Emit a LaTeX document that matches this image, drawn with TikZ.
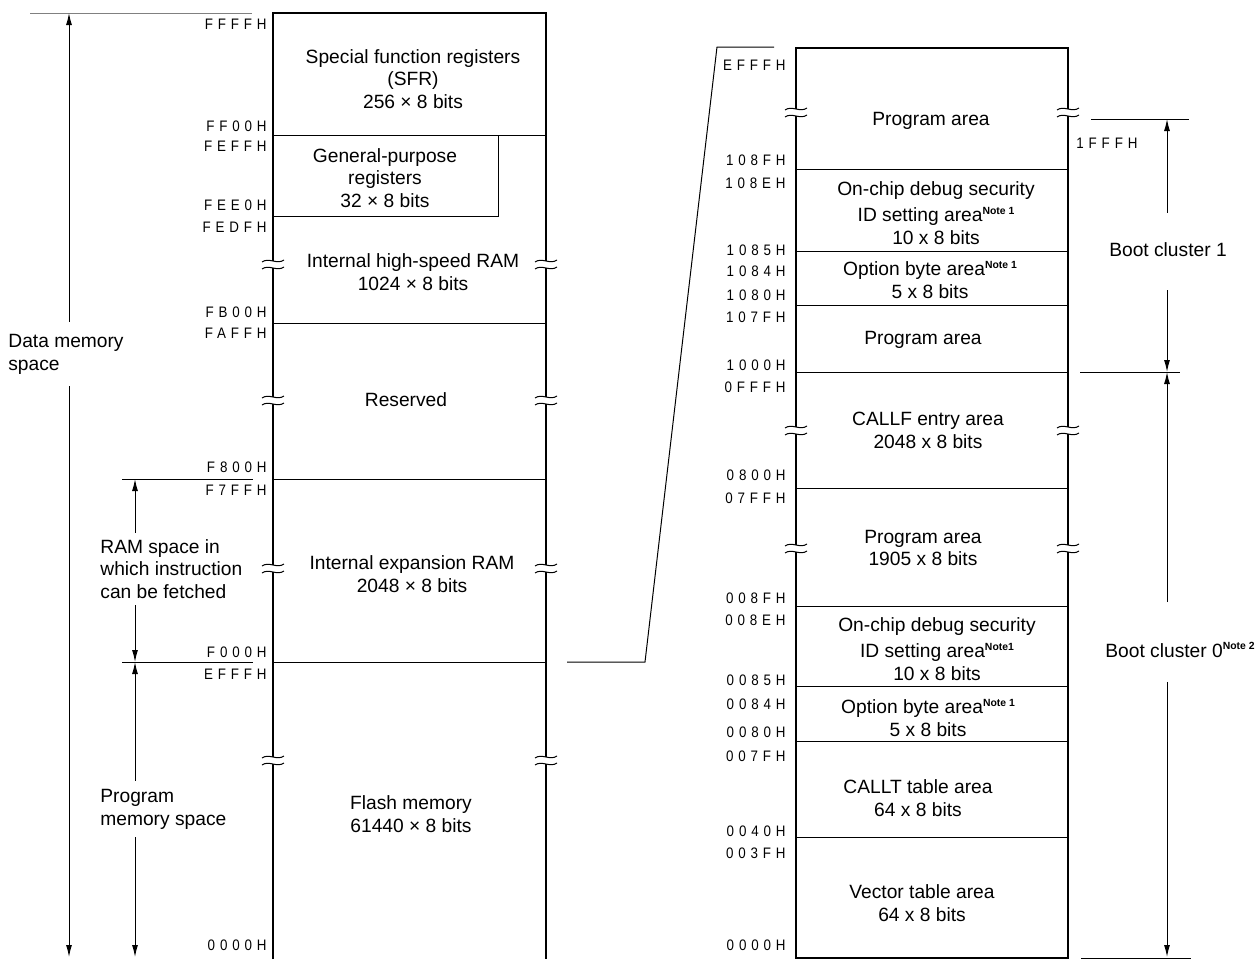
\documentclass[tikz,border=0pt]{standalone}
\usepackage{fontspec}
\setmainfont{Liberation Sans}
\newfontfamily\addrfont[LetterSpace=32,FakeStretch=0.88]{Liberation Sans}
\usetikzlibrary{arrows.meta}

\newcommand\notemark[1]{\raisebox{3.8pt}{\fontsize{5.2}{6}\selectfont\bfseries #1}}
% break mark across a vertical edge at (#1,#2)
\newcommand\cutmark[2]{%
  \fill[white] (#1-2.5,#2-3) rectangle (#1+2.5,#2+4);
  \draw[thinline] (#1-11,#2-2) .. controls (#1-4,#2-7) and (#1+4,#2+1) .. (#1+11,#2-4);
  \draw[thinline] (#1-11,#2+5) .. controls (#1-4,#2) and (#1+4,#2+8) .. (#1+11,#2+3);
}

\begin{document}
\begin{tikzpicture}[
  x=0.5pt, y=-0.5pt,
  thickline/.style={line width=1pt},
  thinline/.style={line width=0.5pt},
  memtext/.style={align=center, inner sep=0pt, font=\fontsize{9.6}{11.4}\selectfont},
  sidetext/.style={align=left, anchor=west, inner sep=0pt, font=\fontsize{9.6}{11.4}\selectfont},
  addr/.style={anchor=east, inner sep=0pt, font=\addrfont\fontsize{7.6}{8.5}\selectfont},
  dimarrow/.style={-{Latex[length=6pt,width=3pt]}, line width=0.5pt}
]
  \useasboundingbox (0,0) rectangle (1259,959);

  % left memory map
  \draw[thickline] (273,959) -- (273,13) -- (546,13) -- (546,959);
  \draw[thinline] (273,135) -- (546,135);
  \draw[thinline] (498,135) -- (498,216) -- (273,216);
  \draw[thinline] (273,323) -- (546,323);
  \draw[thinline] (273,479) -- (546,479);
  \draw[thinline] (273,662) -- (546,662);
  \foreach \y in {264,400,568,760} {
    \cutmark{273}{\y}
    \cutmark{546}{\y}
  }

  \foreach \y/\t in {24/FFFFH,126/FF00H,146/FEFFH,205/FEE0H,227/FEDFH,312/FB00H,
                     333/FAFFH,467/F800H,490/F7FFH,652/F000H,674/EFFFH,945/0000H}
    \node[addr] (l\t) at (267,\y) {\t};

  \node[memtext] (sfr) at (413,79) {Special function registers\\(SFR)\\256 × 8 bits};
  \node[memtext] (gpr) at (385,178) {General-purpose\\registers\\32 × 8 bits};
  \node[memtext] (hsram) at (413,272) {Internal high-speed RAM\\1024 × 8 bits};
  \node[memtext] (rsvd) at (406,400) {Reserved};
  \node[memtext] (exram) at (412,574) {Internal expansion RAM\\2048 × 8 bits};
  \node[memtext] (flash) at (411,814) {Flash memory\\61440 × 8 bits};

  % left space arrows
  \node[sidetext] (dms) at (8,354) {Data memory\\space};
  \node[sidetext] (ramsp) at (100,569) {RAM space in\\which instruction\\can be fetched};
  \node[sidetext] (pms) at (100,809) {Program\\memory space};

  \draw[thinline, gray] (30,13) -- (252,13);
  \draw[thinline] (122,479) -- (253,479);
  \draw[thinline] (122,662) -- (253,662);

  \coordinate (dmtop) at (69,13);
  \coordinate (dmbot) at (69,957);
  \coordinate (ramtop) at (135,479);
  \coordinate (rambot) at (135,662);
  \coordinate (pmbot) at (135,957);
  \draw[dimarrow] (dms.north -| dmtop) ++(0,-12) -- (dmtop);
  \draw[dimarrow] (dms.south -| dmtop) ++(0,12) -- (dmbot);
  \draw[dimarrow] (ramsp.north -| ramtop) ++(0,-6) -- (ramtop);
  \draw[dimarrow] (ramsp.south -| ramtop) ++(0,6) -- (rambot);
  \draw[dimarrow] (pms.north -| ramtop) ++(0,-8) -- (rambot);
  \draw[dimarrow] (pms.south -| ramtop) ++(0,8) -- (pmbot);

  % zoom link
  \draw[thinline] (567,662) -- (645,662) -- (717,47) -- (774,47);

  % right memory map
  \draw[thickline] (796,48) rectangle (1068,958);
  \foreach \y in {169,251,305,372,488,606,686,741,837}
    \draw[thinline] (796,\y) -- (1068,\y);
  \foreach \y in {112,430,548} {
    \cutmark{796}{\y}
    \cutmark{1068}{\y}
  }

  \foreach \y/\t in {65/EFFFH,160/108FH,183/108EH,250/1085H,271/1084H,295/1080H,
                     317/107FH,365/1000H,387/0FFFH,475/0800H,498/07FFH,598/008FH,
                     620/008EH,680/0085H,704/0084H,732/0080H,756/007FH,831/0040H,
                     853/003FH,945/0000H}
    \node[addr] (r\t) at (786,\y) {\t};
  \node[addr, anchor=west] (r1FFFH) at (1076,143) {1FFFH};

  \node[memtext] (pa1) at (931,121) {Program area};
  \node[memtext] (ocd1) at (936,213) {On-chip debug security\\[2pt]ID setting area\notemark{Note 1}\\10 x 8 bits};
  \node[memtext] (ob1) at (930,280) {Option byte area\notemark{Note 1}\\5 x 8 bits};
  \node[memtext] (pa2) at (923,340) {Program area};
  \node[memtext] (callf) at (928,430) {CALLF entry area\\2048 x 8 bits};
  \node[memtext] (pa3) at (923,548) {Program area\\1905 x 8 bits};
  \node[memtext] (ocd0) at (937,649) {On-chip debug security\\[2pt]ID setting area\notemark{Note1}\\10 x 8 bits};
  \node[memtext] (ob0) at (928,718) {Option byte area\notemark{Note 1}\\5 x 8 bits};
  \node[memtext] (callt) at (918,798) {CALLT table area\\64 x 8 bits};
  \node[memtext] (vect) at (922,903) {Vector table area\\64 x 8 bits};

  % boot clusters
  \draw[thinline] (1091,119) -- (1189,119);
  \draw[thinline] (1080,372) -- (1180,372);
  \draw[thinline] (1081,958) -- (1191,958);
  \node[memtext] (bc1) at (1168,250) {Boot cluster 1};
  \node[sidetext] (bc0) at (1105,650) {Boot cluster 0\notemark{Note 2}};

  \coordinate (bc1top) at (1167,119);
  \coordinate (bc1bot) at (1167,372);
  \coordinate (bc0bot) at (1167,957);
  \draw[dimarrow] (bc1.north -| bc1top) ++(0,-30) -- (bc1top);
  \draw[dimarrow] (bc1.south -| bc1top) ++(0,33) -- (bc1bot);
  \draw[dimarrow] (bc0.north -| bc1top) ++(0,-40) -- (bc1bot);
  \draw[dimarrow] (bc0.south -| bc1top) ++(0,24) -- (bc0bot);
\end{tikzpicture}
\end{document}
